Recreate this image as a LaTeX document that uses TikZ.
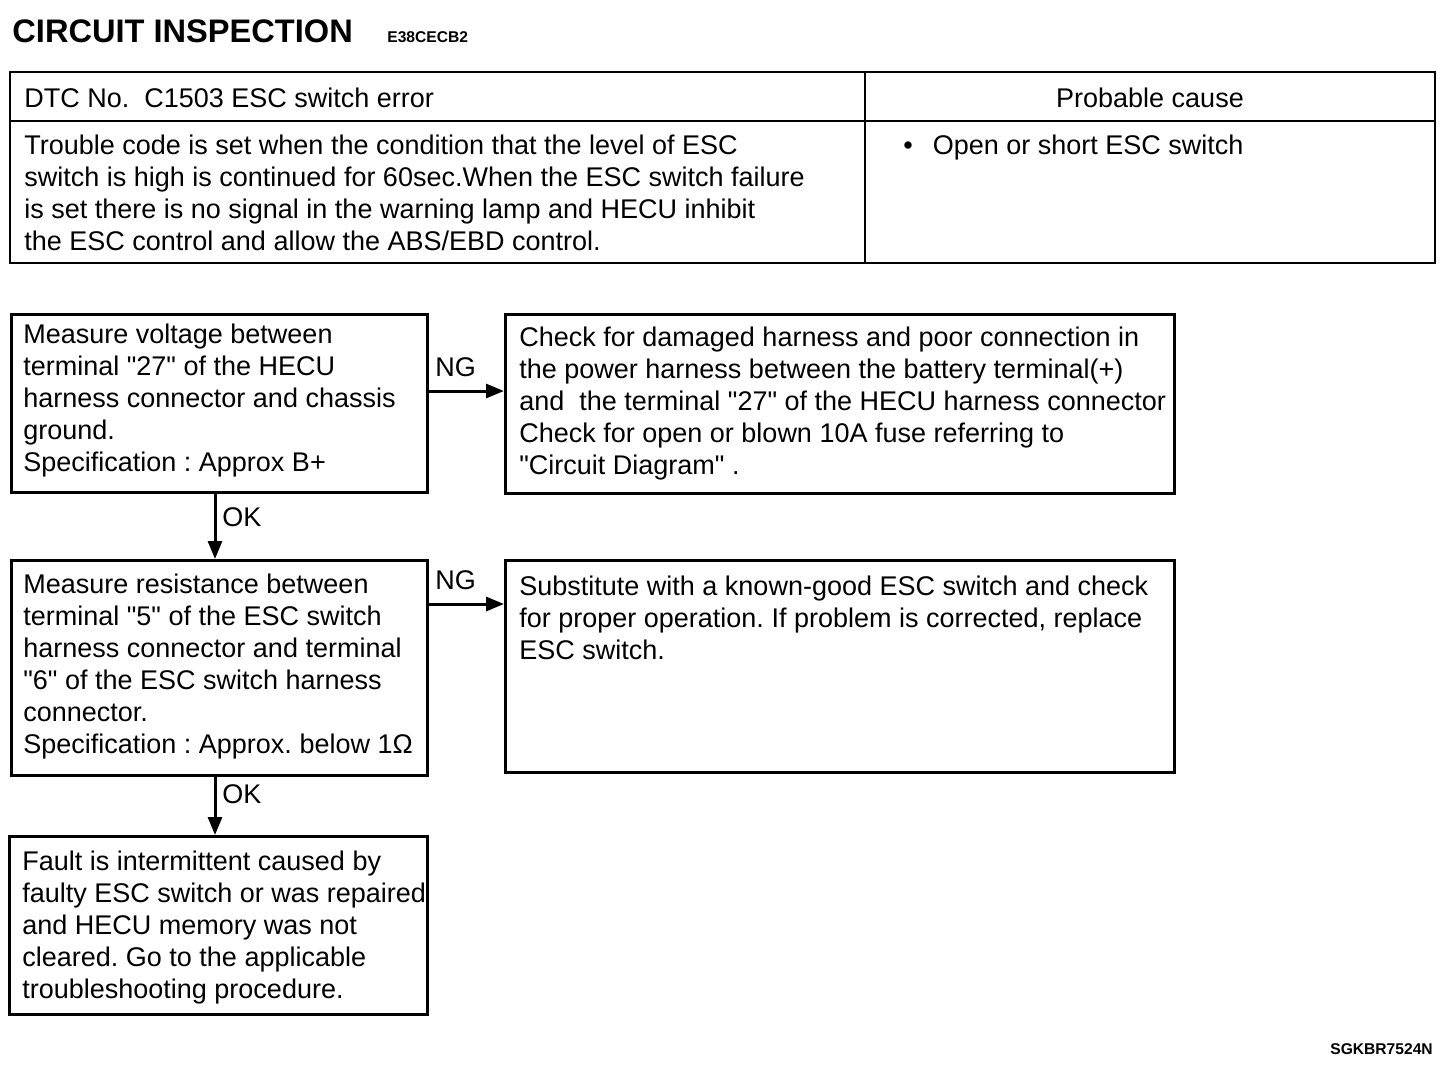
\documentclass[tikz,border=0pt]{standalone}
\usepackage{fontspec}
\setmainfont{Liberation Sans}[Ligatures=TeXOff]
\usetikzlibrary{arrows.meta}
\begin{document}
\frenchspacing
\begin{tikzpicture}[x=0.5pt,y=-0.5pt,
  box/.style={draw, line width=1.5pt, rectangle, inner sep=0pt, anchor=north west},
  txt/.style={anchor=north west, inner sep=0pt, align=left, font=\fontsize{13.5}{16}\selectfont},
  lbl/.style={anchor=base west, inner sep=0pt, font=\fontsize{13.5}{16}\selectfont},
  arr/.style={line width=1.5pt, -{Triangle[length=9pt,width=7pt]}},
  tbl/.style={line width=1pt}]
\useasboundingbox (0,0) rectangle (1456,1088);

% title
\node[anchor=base west, inner sep=0pt, font=\fontsize{16.3}{18}\selectfont\bfseries] (title) at (12,42) {CIRCUIT INSPECTION};
\node[anchor=base west, inner sep=0pt, font=\fontsize{7.8}{9}\selectfont\bfseries] (code) at (387,42) {E38CECB2};

% table
\draw[tbl] (10,72) rectangle (1435,263);
\draw[tbl] (10,121) -- (1435,121);
\draw[tbl] (865,72) -- (865,263);
\node[lbl] (dtc) at (24,107) {DTC No.~ C1503 ESC switch error};
\node[anchor=base, inner sep=0pt, font=\fontsize{13.5}{16}\selectfont] (pc) at (1150,107) {Probable cause};
\node[txt] (cond) at (24,131.6) {\strut Trouble code is set when the condition that the level of ESC\\
switch is high is continued for 60sec.When the ESC switch failure\\
is set there is no signal in the warning lamp and HECU inhibit\\
the ESC control and allow the ABS/EBD control.};
\node[lbl] (cause) at (903,154) {•\hspace{10pt}Open or short ESC switch};

% boxes
\node[box, minimum width=208pt, minimum height=89pt] (b1) at (10,313) {};
\node[box, minimum width=334.5pt, minimum height=89.5pt] (b2) at (504,313) {};
\node[box, minimum width=208pt, minimum height=107.5pt] (b3) at (10,559) {};
\node[box, minimum width=334.5pt, minimum height=106pt] (b4) at (504,559) {};
\node[box, minimum width=209pt, minimum height=89pt] (b5) at (8,835) {};

\node[txt] (t1) at (23,320.6) {\strut Measure voltage between\\
terminal "27" of the HECU\\
harness connector and chassis\\
ground.\\
Specification : Approx B+};
\node[txt] (t2) at (519,323.6) {\strut Check for damaged harness and poor connection in\\
the power harness between the battery terminal(+)\\
and~ the terminal "27" of the HECU harness connector\\
Check for open or blown 10A fuse referring to\\
"Circuit Diagram" .};
\node[txt] (t3) at (23,570.6) {\strut Measure resistance between\\
terminal "5" of the ESC switch\\
harness connector and terminal\\
"6" of the ESC switch harness\\
connector.\\
Specification : Approx. below 1Ω};
\node[txt] (t4) at (519,572.6) {\strut Substitute with a known-good ESC switch and check\\
for proper operation. If problem is corrected, replace\\
ESC switch.};
\node[txt] (t5) at (22,847.6) {\strut Fault is intermittent caused by\\
faulty ESC switch or was repaired\\
and HECU memory was not\\
cleared. Go to the applicable\\
troubleshooting procedure.};

% connectors
\coordinate (ng1) at (0,391);
\coordinate (ng2) at (0,604);
\coordinate (okx) at (215,0);
\draw[arr] (b1.east |- ng1) -- (b2.west |- ng1);
\draw[arr] (b3.east |- ng2) -- (b4.west |- ng2);
\draw[arr] (b1.south -| okx) -- (b3.north -| okx);
\draw[arr] (b3.south -| okx) -- (b5.north -| okx);

\node[lbl] (ngl1) at (435,376) {NG};
\node[lbl] (ngl2) at (435,589) {NG};
\node[lbl] (okl1) at (222,526) {OK};
\node[lbl] (okl2) at (222,803) {OK};

\node[anchor=base west, inner sep=0pt, font=\fontsize{7.8}{9}\selectfont\bfseries] (ref) at (1330,1054) {SGKBR7524N};
\end{tikzpicture}
\end{document}
